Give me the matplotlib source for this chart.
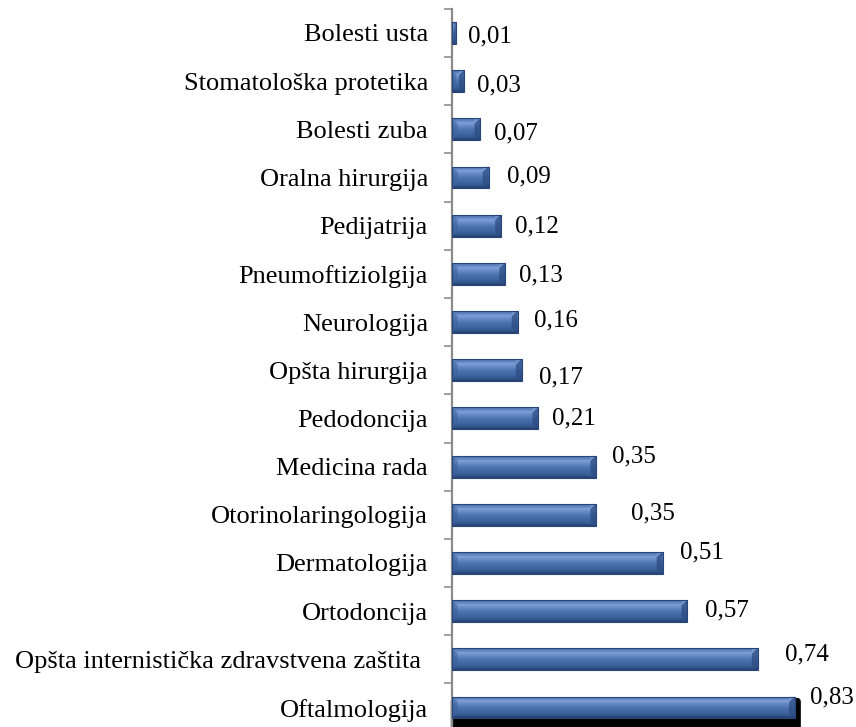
import numpy as np
import matplotlib
matplotlib.use("Agg")
import matplotlib.pyplot as plt
from matplotlib.colors import LinearSegmentedColormap
from matplotlib.patches import Rectangle, Polygon, FancyBboxPatch

plt.rcParams['font.family'] = ['Liberation Serif', 'DejaVu Serif']

# categories listed top to bottom
categories = [
    "Bolesti usta",
    "Stomatološka protetika",
    "Bolesti zuba",
    "Oralna hirurgija",
    "Pedijatrija",
    "Pneumoftiziolgija",
    "Neurologija",
    "Opšta hirurgija",
    "Pedodoncija",
    "Medicina rada",
    "Otorinolaringologija",
    "Dermatologija",
    "Ortodoncija",
    "Opšta internistička zdravstvena zaštita ",
    "Oftalmologija",
]
values = [0.01, 0.03, 0.07, 0.09, 0.12, 0.13, 0.16, 0.17, 0.21,
          0.35, 0.35, 0.51, 0.57, 0.74, 0.83]
value_labels = ["0,01", "0,03", "0,07", "0,09", "0,12", "0,13", "0,16", "0,17",
                "0,21", "0,35", "0,35", "0,51", "0,57", "0,74", "0,83"]

# data-label nudges in pixels: gap right of the bar end, shift of the digits up
label_dx = [12, 13.5, 14, 18.5, 14, 14, 16, 17.5, 14, 16, 35, 17, 18, 27, 14.5]
label_dy = [-1, -1.5, -1.5, 3.5, 2, 0.5, 4, -5, 2, 12.5, 4, 13, 3.5, 7, 13]

W, H, DPI = 856, 727, 100
PX_PER_UNIT = 414.0
ROW_PX = 48.18
fig = plt.figure(figsize=(W / DPI, H / DPI), dpi=DPI)

n = len(categories)
axis_x = 451.5
top_px = 8.9
ax_h = n * ROW_PX
ax = fig.add_axes([axis_x / W, (H - top_px - ax_h) / H, (W - axis_x) / W, ax_h / H])

ypos = np.arange(n)
bar_h = 0.455
ax.set_xlim(0, (W - axis_x) / PX_PER_UNIT)
ax.set_ylim(n - 0.5, -0.5)

# vertical shading of the bar face (top -> bottom)
grad_cmap = LinearSegmentedColormap.from_list("bar", [
    (0.00, "#5a7db6"),
    (0.07, "#5579b6"),
    (0.22, "#7fa2d8"),
    (0.36, "#6289c4"),
    (0.55, "#4a71ad"),
    (0.78, "#3d639f"),
    (0.90, "#31548b"),
    (1.00, "#24406c"),
])
grad = np.linspace(0, 1, 80).reshape(-1, 1)

px_x = 1 / PX_PER_UNIT     # one pixel along x in data units
px_y = 1 / ROW_PX          # one pixel along y in data units

bars = ax.barh(ypos, values, height=bar_h, color="none", edgecolor="none", zorder=3)

for i, (rect, v) in enumerate(zip(bars, values)):
    y0 = rect.get_y()
    y1 = y0 + rect.get_height()
    x1 = rect.get_width()
    if i == n - 1:
        # dark shadow around the lower-right edge of the last bar
        ax.add_patch(FancyBboxPatch((0, y0 + 2 * px_y), x1 + 5 * px_x,
                                    rect.get_height() + 9 * px_y,
                                    boxstyle="round,pad=0,rounding_size=0.008",
                                    mutation_aspect=px_y / px_x,
                                    facecolor="black", edgecolor="black",
                                    lw=1.0, zorder=2, clip_on=False))
    im = ax.imshow(grad, cmap=grad_cmap, aspect="auto", extent=(0, x1, y1, y0),
                   zorder=3, interpolation="bicubic")
    im.set_clip_path(rect)
    bev = min(6 * px_x, x1 * 0.4)
    bh = 5 * px_y
    # right end bevel
    ax.add_patch(Polygon([(x1 - bev, y0 + bh), (x1, y0), (x1, y1), (x1 - bev, y1 - bh)],
                         closed=True, facecolor="#2c4c82", edgecolor="none",
                         alpha=0.75, zorder=4))
    ax.add_patch(Polygon([(x1 - bev, y0 + bh), (x1, y0), (x1 - bev, y0)],
                         closed=True, facecolor="#9bb6e0", edgecolor="none",
                         alpha=0.35, zorder=4))
    # left end bevel
    ax.add_patch(Polygon([(0, y0), (bev, y0 + bh), (bev, y1 - bh), (0, y1)],
                         closed=True, facecolor="#3d629e", edgecolor="none",
                         alpha=0.6, zorder=4))
    ax.add_patch(Rectangle((0, y0), x1, rect.get_height(), facecolor="none",
                           edgecolor="#28457a", lw=0.8, zorder=5))

fs_val = 18
digit_half = 0.338 * fs_val * DPI / 72     # half the digit height, in pixels
for v, y, lab, dx, dy in zip(values, ypos, value_labels, label_dx, label_dy):
    ax.annotate(lab, xy=(v, y),
                xytext=(dx * 72 / DPI, (dy - digit_half) * 72 / DPI),
                textcoords="offset points", ha="left", va="baseline",
                fontsize=fs_val, color="black")

ax.set_yticks(ypos)
ax.set_yticklabels(categories, fontsize=19)
ax.set_yticks(np.arange(-0.5, n, 1), minor=True)
ax.tick_params(axis="y", which="major", length=0, pad=17)
ax.tick_params(axis="y", which="minor", length=6, width=1.1, color="#858585",
               direction="out")
ax.set_xticks([])
for side in ("top", "right", "bottom"):
    ax.spines[side].set_visible(False)
ax.spines["left"].set_color("#8a8a8a")
ax.spines["left"].set_linewidth(1.6)
ax.patch.set_alpha(0)

fig.savefig("out.png", dpi=DPI)
